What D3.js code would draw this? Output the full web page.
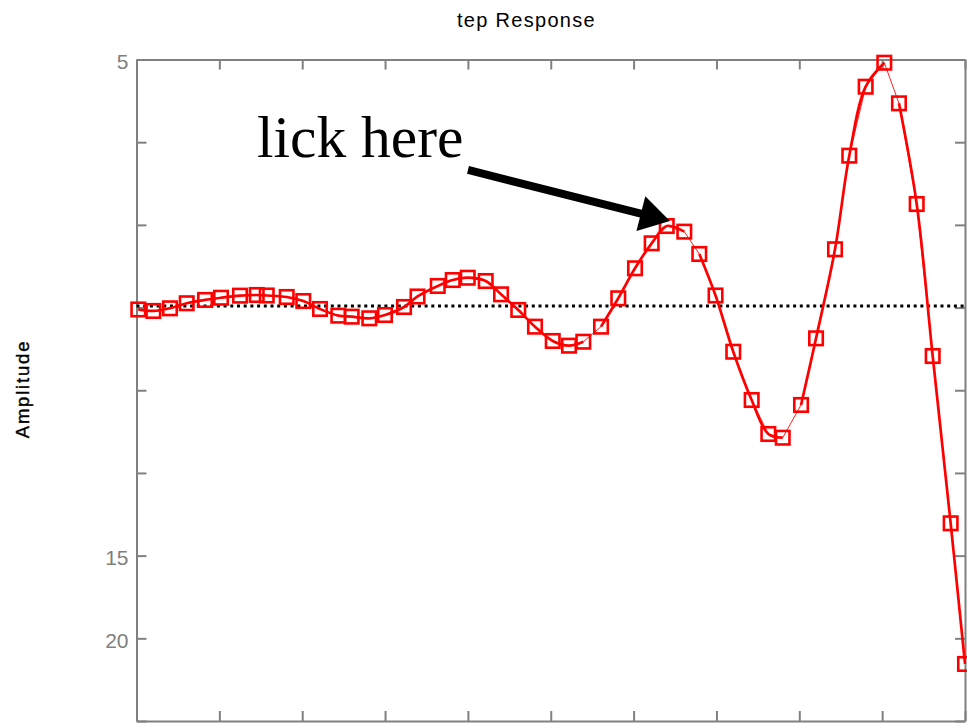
<!DOCTYPE html>
<html>
<head>
<meta charset="utf-8">
<script src="https://cdn.jsdelivr.net/npm/d3@7"></script>
<style>
  html, body { margin: 0; padding: 0; background: #fff; }
  svg { display: block; }
</style>
</head>
<body>
<svg id="chart" width="967" height="723"></svg>
<script>
// Sampled step response: time and amplitude of each marker
const timeValues = [
  0.022, 0.203, 0.404, 0.606, 0.827, 1.020, 1.249, 1.451, 1.572, 1.813,
  2.013, 2.215, 2.436, 2.597, 2.810, 2.999, 3.229, 3.392, 3.636, 3.817,
  3.998, 4.215, 4.400, 4.608, 4.810, 5.024, 5.220, 5.393, 5.607, 5.815,
  6.017, 6.218, 6.400, 6.612, 6.793, 6.989, 7.203, 7.425, 7.626, 7.800,
  8.021, 8.202, 8.431, 8.603, 8.801, 9.026, 9.203, 9.417, 9.610, 9.827,
  10.0
];
const amplitudeValues = [
  0.977, 0.959, 0.991, 1.052, 1.092, 1.119, 1.144, 1.152, 1.146, 1.128,
  1.079, 0.983, 0.902, 0.890, 0.870, 0.910, 1.007, 1.134, 1.261, 1.333,
  1.361, 1.321, 1.160, 0.971, 0.769, 0.596, 0.539, 0.587, 0.769, 1.112,
  1.475, 1.777, 1.986, 1.918, 1.648, 1.146, 0.466, -0.118, -0.529, -0.574,
  -0.178, 0.628, 1.705, 2.837, 3.671, 3.961, 3.470, 2.252, 0.414, -1.609,
  -3.310
];
// Segments (by starting sample index) drawn only with the thin connector
const thinSegmentStarts = [27, 33, 39, 45];

// Steady-state reference level
const steadyState = 1.02;

// Axis ticks
const xTickValues = [0, 1, 2, 3, 4, 5, 6, 7, 8, 9, 10];
const yTickValues = [4, 3, 2, 1, 0, -1, -2, -3, -4];
const yTickLabels = ["5", "", "", "", "", "", "15", "20", ""];

// Annotation
const annotationText = "lick here";
const annotationAt = { t: 1.454, v: 2.821 };
const arrowFrom = { t: 4.001, v: 2.664 };
const arrowTo = { t: 6.439, v: 2.047 };

const titleText = "tep Response";
const yLabelText = "Amplitude";

// ---------------------------------------------------------------
const svg = d3.select("#chart");
const W = 967, H = 723;
svg.append("rect").attr("width", W).attr("height", H).attr("fill", "#fff");

const plot = { left: 136.5, right: 965, top: 59.5, bottom: 721 };
const x = d3.scaleLinear().domain([0, 10]).range([plot.left, plot.right]);
const y = d3.scaleLinear().domain([4, -4]).range([plot.top, plot.bottom]);

const axisColor = "#808080";
const sansFont = "'Liberation Sans', Arial, Helvetica, sans-serif";

function styleAxis(g) {
  g.select(".domain").attr("stroke", axisColor).attr("stroke-width", 2);
  g.selectAll(".tick line").attr("stroke", axisColor).attr("stroke-width", 2);
  g.selectAll(".tick text")
    .attr("fill", axisColor)
    .style("font-family", sansFont)
    .style("font-size", "21px");
}

// Box axes with inward ticks
svg.append("g")
  .attr("transform", `translate(${plot.left},0)`)
  .call(d3.axisLeft(y).tickValues(yTickValues)
    .tickFormat((d, i) => yTickLabels[i])
    .tickSize(-10).tickSizeOuter(0).tickPadding(8))
  .call(styleAxis)
  .call(g => g.selectAll(".tick text").attr("dy", "0.42em"));

svg.append("g")
  .attr("transform", `translate(${plot.right},0)`)
  .call(d3.axisRight(y).tickValues(yTickValues).tickFormat("")
    .tickSize(-10).tickSizeOuter(0))
  .call(styleAxis);

svg.append("g")
  .attr("transform", `translate(0,${plot.top})`)
  .call(d3.axisTop(x).tickValues(xTickValues).tickFormat("")
    .tickSize(-10).tickSizeOuter(0))
  .call(styleAxis);

svg.append("g")
  .attr("transform", `translate(0,${plot.bottom})`)
  .call(d3.axisBottom(x).tickValues(xTickValues).tickFormat("")
    .tickSize(-10).tickSizeOuter(0))
  .call(styleAxis);

// Steady-state dotted line
svg.append("line")
  .attr("x1", x(0)).attr("x2", x(10))
  .attr("y1", y(steadyState)).attr("y2", y(steadyState))
  .attr("stroke", "#000")
  .attr("stroke-width", 3)
  .attr("stroke-dasharray", "3,3.7");

// Response data
const data = timeValues.map((t, i) => ({ t, v: amplitudeValues[i] }));

// Thin connector through every sample
const thinLine = d3.line().x(d => x(d.t)).y(d => y(d.v));
svg.append("path")
  .datum(data)
  .attr("d", thinLine)
  .attr("fill", "none")
  .attr("stroke", "#ff2020")
  .attr("stroke-width", 1);

// Thick response curve, split into runs
const runs = [];
let current = [data[0]];
for (let i = 1; i < data.length; i++) {
  if (thinSegmentStarts.includes(i - 1)) {
    runs.push(current);
    current = [data[i]];
  } else {
    current.push(data[i]);
  }
}
runs.push(current);

const thickLine = d3.line().x(d => x(d.t)).y(d => y(d.v)).curve(d3.curveCatmullRom.alpha(0.5));
svg.append("g").selectAll("path")
  .data(runs.filter(r => r.length > 1))
  .join("path")
  .attr("d", thickLine)
  .attr("fill", "none")
  .attr("stroke", "#ff0000")
  .attr("stroke-width", 2.7)
  .attr("stroke-linejoin", "round");

// Square markers
const ms = 13.5;
svg.append("g").selectAll("rect")
  .data(data)
  .join("rect")
  .attr("x", d => x(d.t) - ms / 2)
  .attr("y", d => y(d.v) - ms / 2)
  .attr("width", ms)
  .attr("height", ms)
  .attr("fill", "none")
  .attr("stroke", "#ff0000")
  .attr("stroke-width", 2.6);

// Annotation text
svg.append("text")
  .attr("x", x(annotationAt.t))
  .attr("y", y(annotationAt.v))
  .attr("fill", "#000")
  .style("font-family", "'Liberation Serif', 'Times New Roman', serif")
  .style("font-size", "59.5px")
  .text(annotationText);

// Annotation arrow
(function drawArrow() {
  const x0 = x(arrowFrom.t), y0 = y(arrowFrom.v);
  const x1 = x(arrowTo.t), y1 = y(arrowTo.v);
  const dx = x1 - x0, dy = y1 - y0;
  const len = Math.hypot(dx, dy);
  const ux = dx / len, uy = dy / len;
  const px = -uy, py = ux;
  const headLen = 30, headHalf = 18, shaftHalf = 4;
  const bx = x1 - ux * headLen, by = y1 - uy * headLen;
  const pts = [
    [x0 + px * shaftHalf, y0 + py * shaftHalf],
    [bx + px * shaftHalf, by + py * shaftHalf],
    [bx + px * headHalf, by + py * headHalf],
    [x1, y1],
    [bx - px * headHalf, by - py * headHalf],
    [bx - px * shaftHalf, by - py * shaftHalf],
    [x0 - px * shaftHalf, y0 - py * shaftHalf]
  ];
  svg.append("path")
    .attr("d", "M" + pts.map(p => p.join(",")).join("L") + "Z")
    .attr("fill", "#000");
})();

// Title
svg.append("text")
  .attr("x", 457)
  .attr("y", 27)
  .attr("fill", "#000")
  .style("font-family", sansFont)
  .style("font-size", "20px")
  .style("letter-spacing", "1.3px")
  .text(titleText);

// Y axis label
svg.append("text")
  .attr("transform", "translate(22,389) rotate(-90)")
  .attr("text-anchor", "middle")
  .attr("dominant-baseline", "central")
  .attr("fill", "#000")
  .attr("stroke", "#000")
  .attr("stroke-width", 0.4)
  .style("font-family", sansFont)
  .style("font-size", "18.5px")
  .style("letter-spacing", "1.8px")
  .text(yLabelText);
</script>
</body>
</html>
